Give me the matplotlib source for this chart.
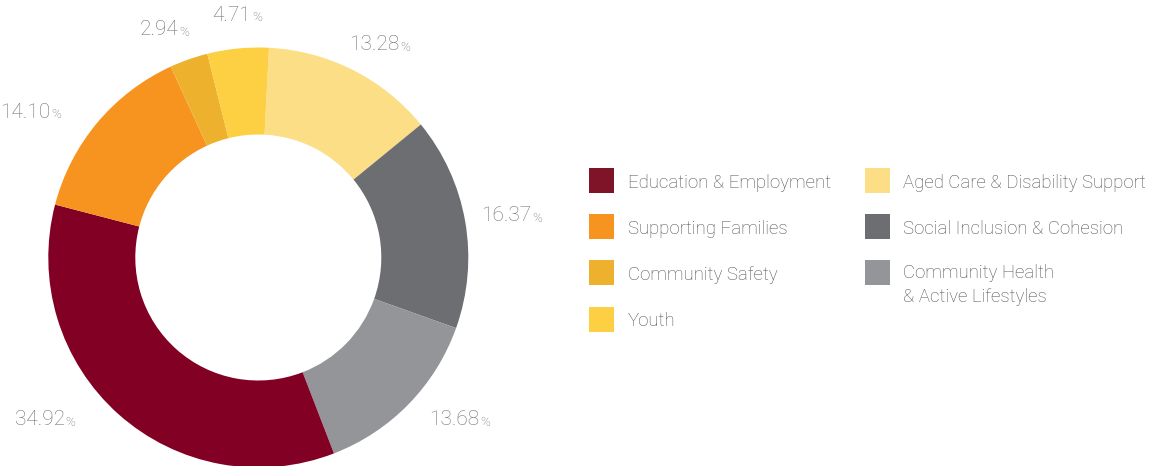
import matplotlib
matplotlib.use("Agg")
import matplotlib.pyplot as plt
from matplotlib.patches import Rectangle
import numpy as np

# Funding share by program area (percent), drawn clockwise from the top
categories = [
    "Aged Care & Disability Support",
    "Social Inclusion & Cohesion",
    "Community Health\n& Active Lifestyles",
    "Education & Employment",
    "Supporting Families",
    "Community Safety",
    "Youth",
]
shares = [13.28, 16.37, 13.68, 34.92, 14.10, 2.94, 4.71]
colors = ["#FCDE87", "#6D6E71", "#939598", "#820024", "#F7941F", "#EDB12E", "#FDCF42"]

# Legend arrangement: two columns
legend_left = ["Education & Employment", "Supporting Families", "Community Safety", "Youth"]
legend_right = ["Aged Care & Disability Support", "Social Inclusion & Cohesion",
                "Community Health\n& Active Lifestyles"]

W, H = 1152, 466
fig = plt.figure(figsize=(W / 100, H / 100), dpi=100)
ax = fig.add_axes([0, 0, 1, 1])

cx, cy = 258.3, H - 257.5
R = 210
ring = 87 / 210

wedges, _ = ax.pie(shares, colors=colors, startangle=87.1, counterclock=False,
                   radius=R, center=(cx, cy), frame=True,
                   wedgeprops=dict(width=R * ring, linewidth=0))
ax.set_xlim(0, W)
ax.set_ylim(0, H)
ax.set_aspect("equal")
ax.axis("off")

label_font = dict(family=["Roboto", "DejaVu Sans"], color="#707174", fontweight="light")
# radial distance and angular nudge (degrees) for each percentage label
label_r = [244.9, 256.1, 258.2, 268.2, 270.5, 246.3, 243.4]
label_dang = [-2.9, -0.5, 5.3, -11.0, 7.6, 3.15, -0.55]

for w, v, lr, da in zip(wedges, shares, label_r, label_dang):
    mid = np.deg2rad((w.theta1 + w.theta2) / 2 + da)
    x = cx + lr * np.cos(mid)
    y = cy + lr * np.sin(mid)
    t = ax.text(x - 5, y, f"{v:.2f}", ha="center", va="center", fontsize=15, **label_font)
    ax.annotate("%", xy=(1, 0), xycoords=t, xytext=(0.6, 0.5), textcoords="offset points",
                ha="left", va="bottom", fontsize=9.5, **label_font)

legend_font = dict(family=["Roboto", "DejaVu Sans"], color="#4E4F52", fontsize=13.4,
                   fontweight="light")
color_of = dict(zip(categories, colors))
color_of["Education & Employment"] = "#7F1327"

rows_y = [180.5, 226, 272.5, 319]
for col_names, sq_x, tx in [(legend_left, 589, 628), (legend_right, 865, 903)]:
    for name, ry in zip(col_names, rows_y):
        ax.add_patch(Rectangle((sq_x, H - ry - 12.5), 25, 25, facecolor=color_of[name],
                               edgecolor="none"))
        if "\n" in name:
            ax.text(tx, H - ry + 8, name, ha="left", va="top", linespacing=1.36,
                    **legend_font)
        else:
            ax.text(tx, H - ry - 2.5, name, ha="left", va="center", **legend_font)

fig.savefig("out.png", dpi=100, facecolor="white")
